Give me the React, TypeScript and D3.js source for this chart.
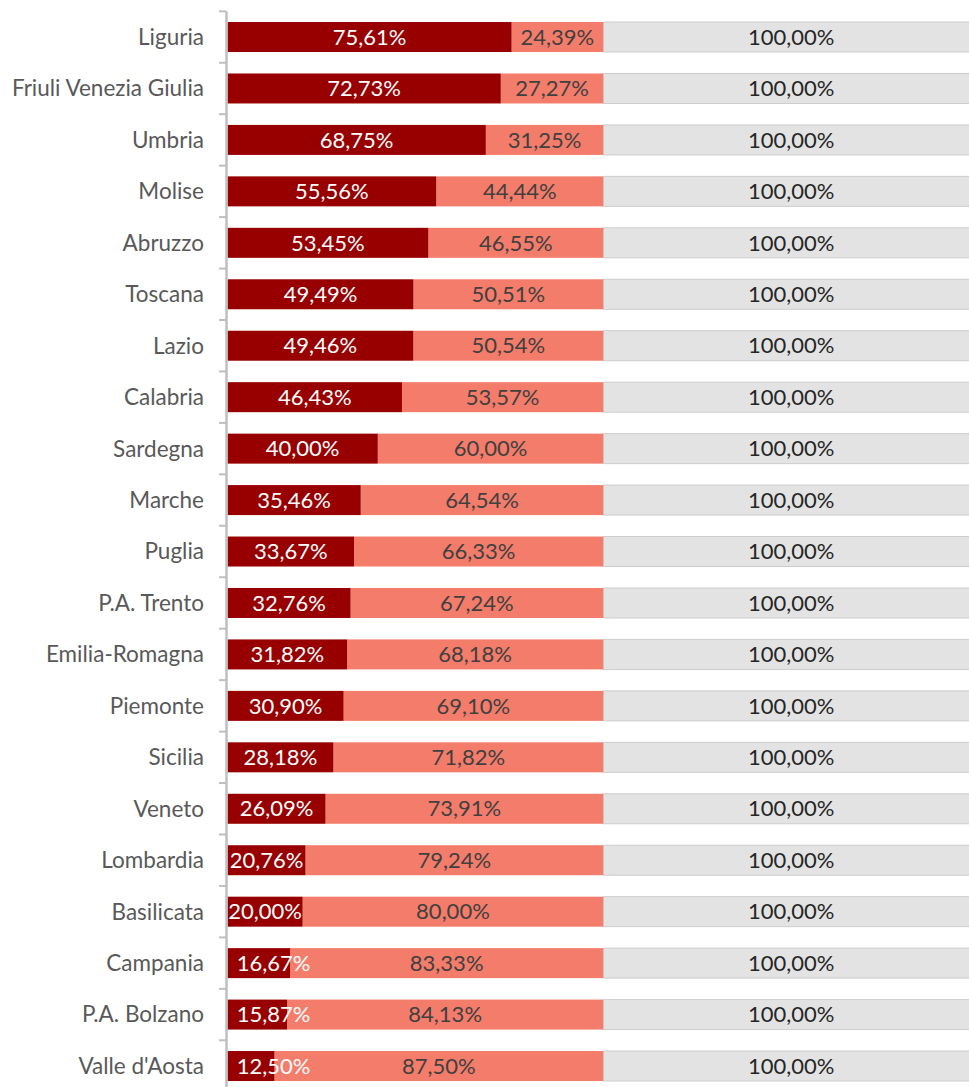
import React from "react";
import * as d3 from "d3";

const regions = [
  "Liguria", "Friuli Venezia Giulia", "Umbria", "Molise", "Abruzzo", "Toscana", "Lazio",
  "Calabria", "Sardegna", "Marche", "Puglia", "P.A. Trento", "Emilia-Romagna", "Piemonte",
  "Sicilia", "Veneto", "Lombardia", "Basilicata", "Campania", "P.A. Bolzano", "Valle d'Aosta",
];
const darkValues = [75.61, 72.73, 68.75, 55.56, 53.45, 49.49, 49.46, 46.43, 40.0, 35.46, 33.67, 32.76, 31.82, 30.9, 28.18, 26.09, 20.76, 20.0, 16.67, 15.87, 12.5];
const lightValues = [24.39, 27.27, 31.25, 44.44, 46.55, 50.51, 50.54, 53.57, 60.0, 64.54, 66.33, 67.24, 68.18, 69.1, 71.82, 73.91, 79.24, 80.0, 83.33, 84.13, 87.5];
const totalValues = regions.map(() => 100);

const W = 969;
const H = 1087;
const FONT = "Lato, 'Open Sans', sans-serif";
const fmt = (v: number) => v.toFixed(2).replace(".", ",") + "%";
const LABEL_W = 72;

export default function App() {
  const x = d3.scaleLinear().domain([0, 200]).range([227.5, 979]);
  const y = d3
    .scaleBand<string>()
    .domain(regions)
    .range([11.3, 11.3 + 21 * 51.45])
    .paddingInner(0.417)
    .paddingOuter(0.2085);
  const bh = y.bandwidth();
  const step = y.step();

  return (
    <svg width={W} height={H} style={{ position: "absolute", left: 0, top: 0, display: "block" }}>
      <defs>
        <clipPath id="plot">
          <rect x={0} y={0} width={W} height={H} />
        </clipPath>
      </defs>
      <g clipPath="url(#plot)">
        {regions.map((r, i) => {
          const y0 = y(r)!;
          const d = darkValues[i];
          const l = lightValues[i];
          const t = totalValues[i];
          const xd0 = x(0), xd1 = x(d), xl1 = x(d + l), xt1 = x(d + l + t);
          const darkFits = xd1 - xd0 >= LABEL_W;
          const darkCx = darkFits ? (xd0 + xd1) / 2 : xd0 + 10 + LABEL_W / 2;
          return (
            <g key={r}>
              <rect x={xl1} y={y0} width={xt1 - xl1} height={bh} fill="#e3e3e3" stroke="#cdcdcd" strokeWidth={1} />
              <rect x={xd1} y={y0} width={xl1 - xd1} height={bh} fill="#f47c6a" />
              <rect x={xd0} y={y0} width={xd1 - xd0} height={bh} fill="#980000" />
              <text x={(xl1 + xt1) / 2} y={y0 + bh / 2} dy="0.35em" textAnchor="middle" fontFamily={FONT} fontSize={22} fill="#262626">
                {fmt(t)}
              </text>
              <text x={(xd1 + xl1) / 2} y={y0 + bh / 2} dy="0.35em" textAnchor="middle" fontFamily={FONT} fontSize={22} fill="#404040">
                {fmt(l)}
              </text>
              <text x={darkCx} y={y0 + bh / 2} dy="0.35em" textAnchor="middle" fontFamily={FONT} fontSize={22} fill="#ffffff">
                {fmt(d)}
              </text>
              <text x={204} y={y0 + bh / 2} dy="0.35em" textAnchor="end" fontFamily={FONT} fontSize={22.5} fill="#595959">
                {r}
              </text>
            </g>
          );
        })}
        <line x1={226.5} x2={226.5} y1={y.range()[0]} y2={H} stroke="#bfbfbf" strokeWidth={2.5} />
        {d3.range(regions.length + 1).map((k) => {
          const yy = y.range()[0] + k * step;
          return <line key={k} x1={219} x2={226} y1={yy} y2={yy} stroke="#bfbfbf" strokeWidth={2} />;
        })}
      </g>
    </svg>
  );
}
